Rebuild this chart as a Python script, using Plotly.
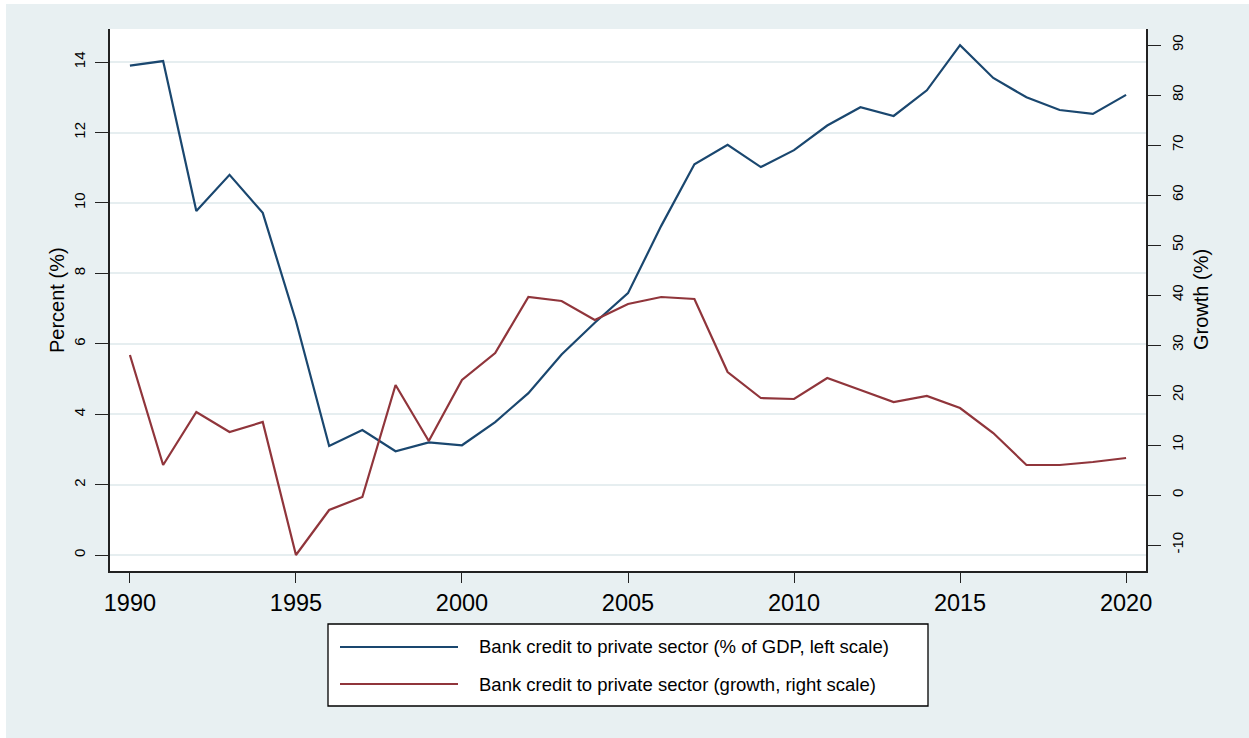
import plotly.graph_objects as go

# Annual series, 1990-2020
years = list(range(1990, 2021))
credit_gdp = [13.90, 14.03, 9.77, 10.80, 9.72, 6.65, 3.10, 3.55, 2.95, 3.20,
              3.12, 3.78, 4.60, 5.70, 6.60, 7.44, 9.35, 11.10, 11.65, 11.02,
              11.50, 12.20, 12.72, 12.47, 13.20, 14.48, 13.55, 13.00, 12.64, 12.53,
              13.07]
credit_growth = [28.0, 6.0, 16.6, 12.6, 14.6, -12.0, -3.0, -0.4, 22.0, 10.8,
                 23.0, 28.4, 39.6, 38.8, 35.0, 38.2, 39.6, 39.2, 24.6, 19.4,
                 19.2, 23.4, 21.0, 18.6, 19.8, 17.4, 12.4, 6.0, 6.0, 6.6,
                 7.4]
x_ticks = [1990, 1995, 2000, 2005, 2010, 2015, 2020]
left_ticks = [0, 2, 4, 6, 8, 10, 12, 14]
right_ticks = [-10, 0, 10, 20, 30, 40, 50, 60, 70, 80, 90]
right_tick_text = [str(v) for v in right_ticks]
legend_labels = ["Bank credit to private sector (% of GDP, left scale)",
                 "Bank credit to private sector (growth, right scale)"]

BLUE = "#1a476f"
RED = "#90353b"
BG = "#e8f0f2"
GRID = "#e6eef0"
FONT = "Liberation Sans, Arial, sans-serif"

W, H = 1249, 738
L, R, T, B = 110, 103, 29, 167
PW, PH = W - L - R, H - T - B


def px(x):
    return (x - L) / PW


def py(y):
    return (H - B - y) / PH


fig = go.Figure()
fig.add_trace(go.Scatter(x=years, y=credit_gdp, mode="lines",
                         line=dict(color=BLUE, width=2.2), yaxis="y",
                         name=legend_labels[0]))
fig.add_trace(go.Scatter(x=years, y=credit_growth, mode="lines",
                         line=dict(color=RED, width=2.2), yaxis="y2",
                         name=legend_labels[1]))

shapes = [
    # white page edge at top and left
    dict(type="rect", xref="paper", yref="paper", x0=px(0), x1=px(W), y0=py(4), y1=py(0),
         fillcolor="white", line=dict(width=0), layer="below"),
    dict(type="rect", xref="paper", yref="paper", x0=px(0), x1=px(6), y0=py(H), y1=py(0),
         fillcolor="white", line=dict(width=0), layer="below"),
    # legend frame
    dict(type="rect", xref="paper", yref="paper", x0=px(328), x1=px(928), y0=py(706), y1=py(624),
         fillcolor="white", line=dict(color="black", width=1.3)),
    dict(type="line", xref="paper", yref="paper", x0=px(340), x1=px(458), y0=py(647), y1=py(647),
         line=dict(color=BLUE, width=2.2)),
    dict(type="line", xref="paper", yref="paper", x0=px(340), x1=px(458), y0=py(684), y1=py(684),
         line=dict(color=RED, width=2.2)),
]

annotations = [
    dict(text=legend_labels[0], xref="paper", yref="paper", x=px(477), y=py(647),
         xanchor="left", yanchor="middle", showarrow=False, font=dict(size=18.5, color="black")),
    dict(text=legend_labels[1], xref="paper", yref="paper", x=px(477), y=py(684),
         xanchor="left", yanchor="middle", showarrow=False, font=dict(size=18.5, color="black")),
    dict(text="Percent (%)", xref="paper", yref="paper", x=px(57), y=py(300), textangle=-90,
         xanchor="center", yanchor="middle", showarrow=False, font=dict(size=20, color="black")),
    dict(text="Growth (%)", xref="paper", yref="paper", x=px(1201), y=py(300), textangle=-90,
         xanchor="center", yanchor="middle", showarrow=False, font=dict(size=20, color="black")),
]

axis_common = dict(showline=True, linecolor="#222222", linewidth=1.6, ticks="outside",
                   tickcolor="#222222", tickwidth=1.4, zeroline=False,
                   tickfont=dict(size=15, color="black"))

fig.update_layout(
    width=W, height=H,
    margin=dict(l=L, r=R, t=T, b=B),
    paper_bgcolor=BG, plot_bgcolor="white",
    font=dict(family=FONT, color="black"),
    showlegend=False,
    shapes=shapes, annotations=annotations,
    xaxis=dict(range=[1989.4, 2020.6], tickvals=x_ticks, showgrid=False,
               showline=True, linecolor="#222222", linewidth=1.6, ticks="outside",
               ticklen=10, tickcolor="#222222", tickwidth=1.4, zeroline=False,
               tickfont=dict(size=23.5, color="black")),
    yaxis=dict(range=[-0.45, 14.94], tickvals=left_ticks, tickangle=-90, ticklen=13,
               showgrid=True, gridcolor=GRID, gridwidth=1.5, ticklabelstandoff=4,
               **axis_common),
    yaxis2=dict(range=[-15.2, 93.2], tickvals=right_ticks, ticktext=right_tick_text,
                tickangle=-90, ticklen=13, overlaying="y", side="right", showgrid=False,
                ticklabelstandoff=4, **axis_common),
)

fig.write_html("out.html")
